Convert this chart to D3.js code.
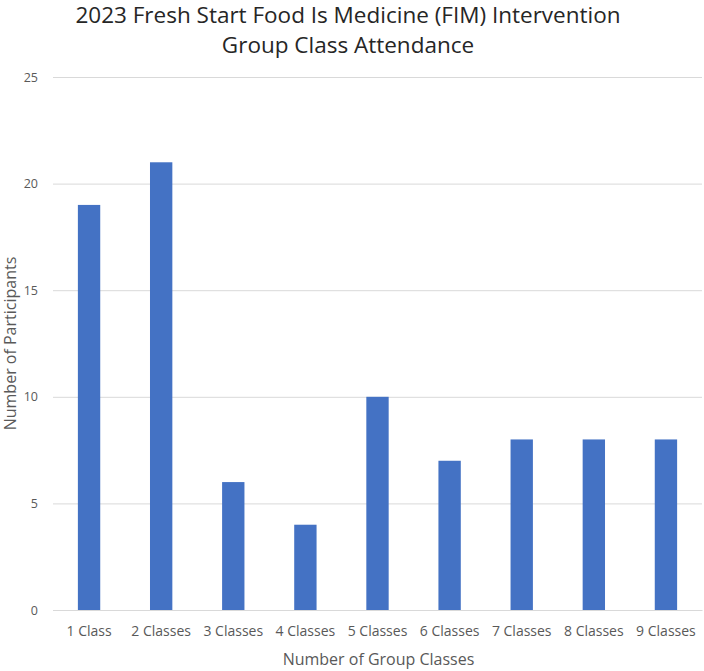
<!DOCTYPE html>
<html><head><meta charset="utf-8">
<script src="https://cdn.jsdelivr.net/npm/d3@7"></script>
<style>body{margin:0;background:#fff}svg{display:block}text{font-family:"Open Sans",sans-serif}</style>
</head><body><svg id="c" width="704" height="671"></svg>
<script>
const categories = ["1 Class","2 Classes","3 Classes","4 Classes","5 Classes","6 Classes","7 Classes","8 Classes","9 Classes"];
const participants = [19,21,6,4,10,7,8,8,8];
const yTicks = [0,5,10,15,20,25];
const titleLines = ["2023 Fresh Start Food Is Medicine (FIM) Intervention","Group Class Attendance"];

const svg = d3.select("#c");
const m = {left:53, right:702, top:77, bottom:610};
const x = d3.scaleBand().domain(categories).range([m.left,m.right]).paddingInner(0.69).paddingOuter(0.345);
const y = d3.scaleLinear().domain([0,25]).range([m.bottom,m.top]);

const yAxis = svg.append("g").attr("transform",`translate(${m.left},0)`)
  .call(d3.axisLeft(y).tickValues(yTicks).tickSize(-(m.right-m.left)).tickPadding(15));
yAxis.select(".domain").remove();
yAxis.selectAll("line").attr("stroke","#d9d9d9");
yAxis.selectAll("text").attr("fill","#595959").style("font-size","12.5px");

svg.append("g").selectAll("rect").data(participants).join("rect")
  .attr("x",(d,i)=>x(categories[i])).attr("width",x.bandwidth())
  .attr("y",d=>y(d)).attr("height",d=>y(0)-y(d)).attr("fill","#4472C4");

const xAxis = svg.append("g").attr("transform",`translate(0,${m.bottom})`)
  .call(d3.axisBottom(x).tickSize(0).tickPadding(16));
xAxis.select(".domain").attr("stroke","#d9d9d9");
xAxis.selectAll("text").attr("fill","#595959").style("font-size","14px");

svg.append("text").attr("x",(m.left+m.right)/2+1).attr("y",665).attr("text-anchor","middle")
  .attr("fill","#595959").style("font-size","16px").text("Number of Group Classes");
svg.append("text").attr("transform",`translate(16,${(m.top+m.bottom)/2}) rotate(-90)`).attr("text-anchor","middle")
  .attr("fill","#595959").style("font-size","16px").text("Number of Participants");

svg.append("g").selectAll("text").data(titleLines).join("text")
  .attr("x",348).attr("y",(d,i)=>23+i*30).attr("text-anchor","middle")
  .attr("fill","#262626").style("font-size","22.5px").text(d=>d);
</script></body></html>
